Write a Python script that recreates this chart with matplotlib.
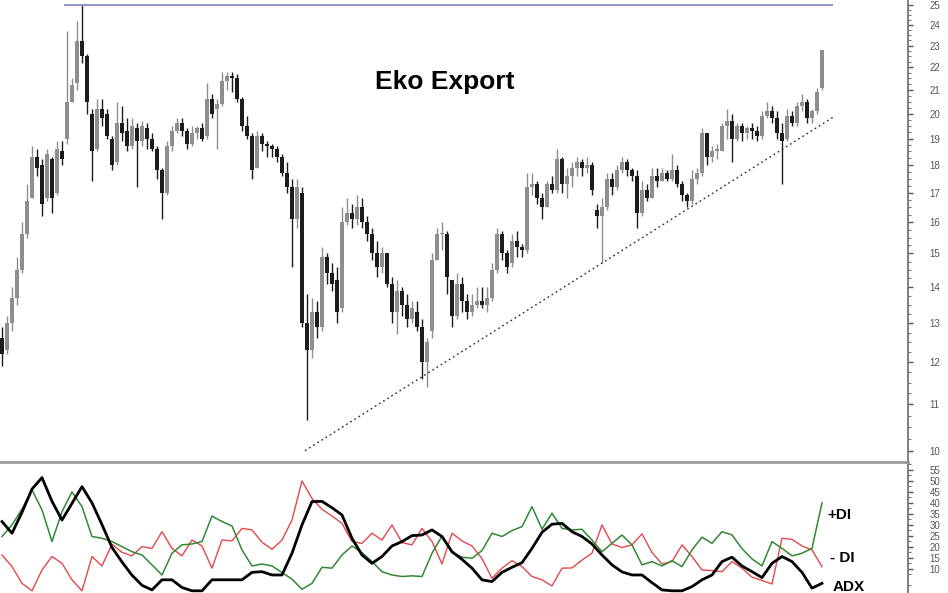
import matplotlib

matplotlib.use("Agg")
import matplotlib.pyplot as plt
import numpy as np
from matplotlib.ticker import FixedLocator, NullFormatter

# daily OHLC
price_open = [
    12.6, 12.3, 13.0, 13.7, 14.5, 15.6, 16.8, 18.3, 18.0, 16.8, 18.2, 17.0, 18.5, 19.0, 20.5, 21.3,
    23.2, 22.5, 20.0, 18.6, 20.2, 20.0, 19.0, 18.1, 19.6, 19.3, 18.7, 19.4, 18.9, 19.4, 19.0, 18.6,
    17.8, 17.0, 18.7, 19.3, 19.6, 19.3, 18.8, 19.2, 19.4, 19.1, 20.6, 20.2, 20.4, 21.4, 21.6, 21.5,
    20.6, 19.5, 19.1, 17.9, 19.1, 18.8, 18.7, 18.6, 18.3, 17.7, 17.2, 16.1, 17.0, 13.0, 12.3, 13.3,
    12.9, 14.9, 14.4, 14.2, 13.4, 16.0, 16.3, 16.1, 16.5, 16.0, 15.6, 15.0, 14.6, 15.0, 14.1, 13.3,
    13.9, 13.5, 13.1, 13.3, 12.9, 12.0, 12.8, 14.8, 15.6, 15.6, 14.2, 13.2, 14.1, 13.6, 13.3, 13.5,
    13.6, 13.5, 13.7, 14.5, 15.6, 15.0, 14.7, 15.4, 15.2, 15.1, 17.2, 17.3, 16.8, 16.5, 17.3, 17.1,
    18.2, 17.3, 17.6, 17.9, 18.1, 17.9, 18.0, 16.4, 16.2, 16.5, 17.5, 17.2, 17.8, 18.1, 17.8, 17.6,
    16.3, 17.1, 16.8, 17.6, 17.4, 17.7, 17.5, 17.8, 17.3, 16.9, 16.7, 17.5, 17.7, 19.2, 18.3, 18.5,
    18.5, 19.5, 19.7, 19.0, 19.5, 19.2, 19.4, 19.3, 19.1, 19.9, 20.1, 19.8, 19.2, 19.0, 19.9, 19.6,
    20.3, 20.5, 19.8, 20.1, 21.1,
]
price_high = [
    12.9, 13.2, 14.0, 14.9, 16.0, 17.3, 18.7, 18.6, 18.2, 18.6, 18.3, 18.9, 18.9, 23.7, 21.5, 24.2,
    25.0, 22.6, 20.2, 20.6, 20.6, 20.2, 19.1, 20.5, 20.3, 19.8, 19.8, 19.6, 19.7, 19.6, 19.2, 18.7,
    17.9, 18.9, 19.5, 19.8, 19.8, 19.4, 19.5, 19.5, 19.6, 21.3, 20.8, 20.6, 21.8, 21.8, 21.8, 21.7,
    20.7, 19.9, 19.2, 19.3, 19.2, 18.9, 18.8, 18.7, 18.4, 18.1, 17.5, 17.5, 17.2, 13.8, 13.7, 13.6,
    15.2, 15.0, 14.7, 14.6, 16.5, 16.8, 16.6, 16.9, 16.8, 16.2, 15.8, 15.4, 15.2, 15.0, 14.3, 14.2,
    14.0, 13.8, 13.6, 13.6, 13.1, 12.6, 15.0, 15.8, 16.0, 15.7, 14.2, 14.4, 14.3, 13.8, 13.8, 14.0,
    14.0, 14.0, 14.7, 15.8, 15.7, 15.1, 15.6, 15.7, 15.3, 17.7, 17.7, 17.4, 17.0, 17.4, 17.6, 18.6,
    18.3, 17.9, 18.1, 18.3, 18.2, 18.3, 18.1, 16.6, 16.8, 17.7, 17.7, 18.0, 18.3, 18.2, 17.9, 17.8,
    17.4, 17.3, 17.9, 17.9, 17.9, 17.8, 18.4, 18.0, 17.4, 17.0, 17.8, 17.9, 19.4, 19.2, 18.7, 18.8,
    19.6, 20.2, 20.0, 19.6, 19.6, 19.5, 19.6, 19.5, 20.1, 20.5, 20.3, 20.1, 19.6, 20.2, 20.1, 20.5,
    20.8, 20.6, 20.2, 21.1, 22.8,
]
price_low = [
    11.9, 12.2, 12.8, 13.5, 14.4, 15.5, 16.8, 17.6, 16.2, 16.7, 16.3, 16.9, 18.0, 18.8, 20.5, 21.0,
    22.2, 20.0, 17.4, 18.5, 19.5, 19.0, 17.8, 18.0, 18.9, 18.5, 18.6, 17.2, 18.7, 18.6, 18.5, 17.5,
    16.1, 16.9, 18.5, 19.2, 19.1, 18.6, 18.7, 19.0, 18.9, 19.0, 19.8, 18.6, 20.3, 21.0, 20.9, 20.5,
    19.3, 19.0, 17.5, 17.9, 18.5, 18.3, 18.3, 18.1, 17.6, 17.0, 14.6, 15.8, 12.9, 10.65, 12.1, 12.6,
    12.8, 14.1, 13.9, 13.0, 13.3, 15.9, 15.8, 15.9, 15.8, 15.4, 14.8, 14.3, 14.4, 14.0, 13.0, 12.7,
    13.2, 12.9, 13.0, 12.8, 11.6, 11.4, 12.6, 14.8, 15.1, 13.8, 12.9, 13.1, 13.3, 13.1, 13.2, 13.4,
    13.4, 13.3, 13.6, 14.4, 14.8, 14.4, 14.6, 14.9, 14.9, 15.0, 16.9, 16.6, 16.1, 16.5, 17.0, 17.0,
    17.0, 16.8, 17.2, 17.6, 17.6, 17.7, 16.9, 15.8, 14.7, 16.4, 16.9, 17.1, 17.7, 17.6, 17.4, 15.8,
    16.2, 16.7, 16.8, 17.2, 17.4, 17.4, 17.4, 17.2, 16.7, 16.5, 16.6, 17.3, 17.6, 18.0, 18.1, 18.2,
    18.5, 19.0, 18.1, 18.9, 18.9, 19.0, 19.0, 18.9, 19.0, 19.8, 19.6, 19.0, 17.3, 18.9, 19.5, 19.5,
    20.1, 19.6, 19.6, 20.0, 21.0,
]
price_close = [
    12.2, 13.0, 13.7, 14.5, 15.6, 16.7, 18.3, 17.9, 16.6, 18.4, 16.8, 18.6, 18.2, 20.5, 21.2, 23.2,
    22.5, 20.5, 18.5, 20.2, 19.8, 19.1, 18.0, 19.6, 19.2, 18.7, 19.5, 18.9, 19.5, 19.0, 18.6, 17.8,
    17.0, 18.7, 19.3, 19.6, 19.3, 18.8, 19.2, 19.4, 19.0, 20.6, 20.0, 20.4, 21.4, 21.6, 21.5, 20.6,
    19.5, 19.1, 17.8, 19.1, 18.8, 18.7, 18.6, 18.3, 17.7, 17.2, 16.1, 17.2, 13.0, 12.3, 13.3, 12.9,
    14.9, 14.4, 14.1, 13.3, 16.0, 16.3, 16.1, 16.5, 16.0, 15.6, 15.0, 14.6, 15.0, 14.1, 13.3, 13.9,
    13.5, 13.1, 13.4, 12.9, 12.0, 12.5, 14.8, 15.6, 15.6, 14.3, 13.2, 14.1, 13.6, 13.3, 13.5, 13.6,
    13.5, 13.7, 14.5, 15.6, 15.0, 14.6, 15.4, 15.2, 15.1, 17.2, 17.3, 16.8, 16.5, 17.3, 17.1, 18.2,
    17.3, 17.6, 17.9, 18.1, 17.9, 18.0, 17.1, 16.2, 16.5, 17.5, 17.2, 17.8, 18.1, 17.8, 17.6, 16.3,
    17.1, 16.8, 17.6, 17.4, 17.7, 17.5, 17.8, 17.3, 16.9, 16.7, 17.5, 17.7, 19.2, 18.3, 18.5, 18.6,
    19.5, 19.7, 19.0, 19.5, 19.2, 19.4, 19.3, 19.1, 19.9, 20.1, 19.8, 19.2, 18.9, 19.9, 19.6, 20.3,
    20.5, 19.8, 20.1, 20.9, 22.8,
]

# directional movement indicators, one value every second session
plus_di = [
    24.7, 30.0, 37.2, 45.9, 36.8, 22.4, 36.0, 45.0, 38.3, 24.7,
    23.9, 22.4, 20.1, 17.8, 16.3, 11.8, 7.2, 17.1, 20.9, 21.3,
    22.4, 34.0, 31.5, 29.5, 18.6, 11.3, 12.2, 11.3, 8.3, 5.3,
    0.7, 3.4, 10.7, 10.3, 16.3, 20.4, 17.4, 13.3, 8.7, 7.2,
    6.5, 6.8, 6.5, 17.1, 24.9, 17.4, 15.3, 14.8, 18.3, 26.2,
    24.7, 27.4, 29.2, 38.3, 28.0, 35.3, 28.4, 27.7, 28.0, 23.1,
    17.8, 21.6, 25.4, 20.9, 11.8, 13.3, 11.3, 13.7, 11.0, 18.6,
    24.4, 21.6, 26.9, 25.4, 19.2, 14.5, 11.3, 22.4, 19.3, 15.9,
    17.1, 19.3, 40.0,
]
minus_di = [
    16.3, 11.0, 3.4, 0.0, 9.5, 15.6, 12.5, 5.0, 0.0, 15.6,
    11.3, 21.2, 17.5, 15.9, 20.1, 19.3, 26.9, 19.3, 15.9, 23.1,
    20.4, 10.3, 23.1, 22.7, 28.4, 27.7, 22.1, 18.9, 23.1, 32.2,
    50.0, 42.0, 37.1, 34.0, 30.7, 22.4, 21.6, 26.2, 23.1, 30.0,
    21.9, 20.9, 28.4, 22.4, 12.2, 26.2, 22.7, 20.4, 14.7, 5.7,
    10.3, 13.7, 11.0, 6.5, 5.0, 2.2, 10.3, 10.4, 14.0, 17.1,
    30.0, 21.3, 19.7, 20.9, 25.9, 17.4, 12.2, 13.3, 20.9, 15.6,
    9.5, 9.2, 8.7, 13.3, 10.3, 6.2, 4.7, 3.1, 23.9, 23.4,
    20.4, 18.6, 11.0,
]
adx = [
    31.5, 26.2, 35.7, 46.3, 51.5, 40.7, 32.2, 39.8, 47.4, 40.0,
    30.1, 19.7, 13.1, 7.1, 2.5, 0.4, 5.0, 5.0, 1.5, 0.0,
    0.0, 5.0, 5.0, 5.0, 5.0, 8.4, 8.7, 7.2, 7.2, 17.1,
    30.0, 40.6, 40.7, 37.8, 34.5, 23.9, 16.3, 12.5, 15.6, 20.4,
    22.4, 25.1, 25.4, 27.7, 24.7, 17.8, 14.3, 10.3, 5.0, 4.2,
    8.4, 10.7, 12.8, 19.3, 26.6, 30.3, 30.7, 26.9, 24.7, 21.3,
    16.3, 11.8, 8.6, 7.2, 7.2, 3.7, 0.4, 0.0, 0.0, 1.9,
    5.0, 7.2, 13.3, 15.3, 11.3, 8.7, 6.0, 12.5, 15.6, 13.3,
    8.4, 1.2, 3.4,
]

price_ticks = list(range(10, 26))
ind_ticks = list(range(10, 56, 5))

resistance_level = 25.0
resistance_span = (12.4, 166.2)
trend_from = (60.6, 10.0)
trend_to = (166.6, 19.9)

title = "Eko Export"

o = np.array(price_open)
h = np.array(price_high)
lo = np.array(price_low)
c = np.array(price_close)
idx = np.arange(len(c))

UP = "#8e8e8e"
DOWN = "#1c1c1c"
colors = np.where(c >= o, UP, DOWN)

fig = plt.figure(figsize=(9.48, 5.93), dpi=100)
ax = fig.add_axes([0.0, 0.2209, 0.9578, 0.7791])
ax2 = fig.add_axes([0.0, 0.0, 0.9578, 0.2209])

ax.set_yscale("log")
ax.vlines(idx, lo, h, colors=colors, lw=1.0)
body = np.maximum(np.abs(c - o), 0.06)
ax.bar(idx, body, bottom=np.minimum(o, c), width=0.72, color=colors, linewidth=0)

ax.hlines(resistance_level, *resistance_span, color="#8a8ac4", lw=1.3)
ax.plot([trend_from[0], trend_to[0]], [trend_from[1], trend_to[1]],
        color="#333333", lw=1.0, ls=(0, (1.3, 2.2)))

tick_font = dict(family="Liberation Sans", size=7)

ax.set_xlim(-0.4, 181.2)
ax.set_ylim(9.77, 25.26)
ax.yaxis.tick_right()
ax.set_yticks(price_ticks)
ax.set_yticklabels([str(t) for t in price_ticks], fontdict=tick_font)
minor = [v for v in np.arange(10, 25.01, 0.25) if v not in price_ticks]
ax.yaxis.set_minor_locator(FixedLocator(minor))
ax.yaxis.set_minor_formatter(NullFormatter())
ax.tick_params(axis="y", which="major", direction="out", length=3.5, width=1,
               pad=12, color="#555555", labelcolor="#555555")
ax.tick_params(axis="y", which="minor", direction="out", length=2, width=0.8, color="#777777")
ax.tick_params(axis="x", bottom=False, labelbottom=False)
for side in ["top", "left", "bottom"]:
    ax.spines[side].set_visible(False)
ax.spines["right"].set_color("#6a6a6a")
ax.spines["right"].set_linewidth(1.2)

xs = np.arange(len(adx)) * 2
ax2.plot(xs, minus_di, color="#e4484c", lw=1.0)
ax2.plot(xs, plus_di, color="#2f8a32", lw=1.1)
ax2.plot(xs, adx, color="black", lw=2.0)
ax2.set_xlim(-0.4, 181.2)
ax2.set_ylim(-1.0, 58.6)
ax2.yaxis.tick_right()
ax2.set_yticks(ind_ticks)
ax2.set_yticklabels([str(t) for t in ind_ticks], fontdict=tick_font)
ax2.yaxis.set_minor_locator(FixedLocator(np.arange(2.5, 58, 5)))
ax2.tick_params(axis="y", which="major", direction="out", length=3.5, width=1,
                pad=12, color="#555555", labelcolor="#555555")
ax2.tick_params(axis="y", which="minor", direction="out", length=2, width=0.8, color="#777777")
ax2.tick_params(axis="x", bottom=False, labelbottom=False)
for side in ["left", "bottom"]:
    ax2.spines[side].set_visible(False)
ax2.spines["top"].set_color("#9a9a9a")
ax2.spines["top"].set_linewidth(2.0)
ax2.spines["right"].set_color("#6a6a6a")
ax2.spines["right"].set_linewidth(1.2)

fig.text(0.4694, 0.8617, title, ha="center", va="center", fontsize=19,
         fontweight="bold", family="Liberation Sans")
lab = dict(fontsize=11, fontweight="bold", family="Liberation Sans")
fig.text(0.873, 0.1315, "+DI", ha="left", va="center", **lab)
fig.text(0.875, 0.059, "- DI", ha="left", va="center", **lab)
fig.text(0.878, 0.004, "ADX", ha="left", va="baseline", **lab)

fig.savefig("out.png", dpi=100)
